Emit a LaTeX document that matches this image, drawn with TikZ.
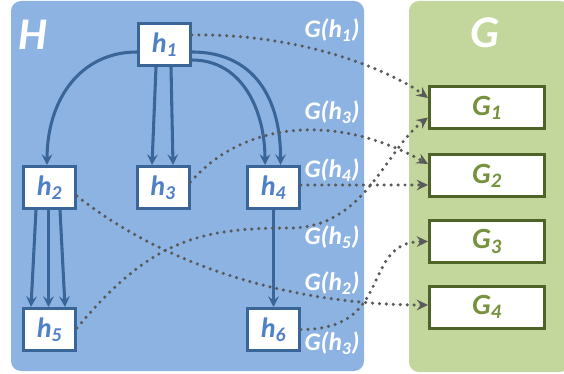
\documentclass[tikz,border=0pt]{standalone}
\usepackage{fontspec}
\setmainfont{Carlito}
\usetikzlibrary{arrows.meta,calc}
\definecolor{panelH}{HTML}{8DB3E2}
\definecolor{panelG}{HTML}{C3D69B}
\definecolor{hborder}{HTML}{3A6598}
\definecolor{htext}{HTML}{4F81C4}
\definecolor{gborder}{HTML}{4F6228}
\definecolor{gtext}{HTML}{76923C}
\definecolor{dotc}{HTML}{595959}
\begin{document}
\begin{tikzpicture}[x=0.75pt,y=-0.75pt,
  hbox/.style={draw=hborder,line width=2.25pt,fill=white,minimum width=39pt,minimum height=31.5pt,inner sep=0pt,text=htext,font=\fontsize{21}{21}\selectfont\bfseries\itshape},
  gbox/.style={draw=gborder,line width=2.25pt,fill=white,minimum width=86.25pt,minimum height=31.5pt,inner sep=0pt,text=gtext,font=\fontsize{22}{22}\selectfont\bfseries\itshape},
  panel/.style={rounded corners=7.5pt},
  bigtitle/.style={text=white,font=\fontsize{34}{34}\selectfont\bfseries\itshape},
  maplabel/.style={text=white,font=\fontsize{19}{19}\selectfont\bfseries\itshape},
  edge/.style={draw=hborder,line width=2.3pt,-{Stealth[length=8pt,width=8pt,inset=3pt]}},
  mapedge/.style={draw=dotc,line width=2.6pt,line cap=round,dash pattern=on 0pt off 5.2pt,-{Stealth[length=8.5pt,width=8pt,inset=3pt]}}
]
\useasboundingbox (0,0) rectangle (564,374);
\fill[panelH,panel] (11,1) rectangle (364,371);
\fill[panelG,panel] (409,1) rectangle (570,372);
\node[bigtitle] (Ht) at (33,35) {H};
\node[bigtitle] (Gt) at (485,33) {G};

\node[hbox] (h1) at (164.5,44.5) {h\textsubscript{1}};
\node[hbox] (h2) at (49.5,187.5) {h\textsubscript{2}};
\node[hbox] (h3) at (163,187.5) {h\textsubscript{3}};
\node[hbox] (h4) at (273.5,187.5) {h\textsubscript{4}};
\node[hbox] (h5) at (49.5,329.5) {h\textsubscript{5}};
\node[hbox] (h6) at (273.5,329.5) {h\textsubscript{6}};

\node[gbox] (G1) at (487,107.5) {G\textsubscript{1}};
\node[gbox] (G2) at (487,175.5) {G\textsubscript{2}};
\node[gbox] (G3) at (487,241.5) {G\textsubscript{3}};
\node[gbox] (G4) at (487,307) {G\textsubscript{4}};

\node[maplabel] (l1) at (332,30) {G(h\textsubscript{1})};
\node[maplabel] (l2) at (332,112) {G(h\textsubscript{3})};
\node[maplabel] (l3) at (332,170) {G(h\textsubscript{4})};
\node[maplabel] (l4) at (332,237) {G(h\textsubscript{5})};
\node[maplabel] (l5) at (332,283) {G(h\textsubscript{2})};
\node[maplabel] (l6) at (332,343) {G(h\textsubscript{3})};

% solid edges
\draw[edge] ($(h1.west)+(0,7.5)$) .. controls (80,52) and (47,100) .. ($(h2.north)+(-2.5,0)$);
\draw[edge] ($(h1.south)+(-8.5,0)$) -- ($(h3.north)+(-11,0)$);
\draw[edge] ($(h1.south)+(6.5,0)$) -- ($(h3.north)+(10,0)$);
\draw[edge] ($(h1.east)+(0,7.5)$) .. controls (255,52) and (281,100) .. ($(h4.north)+(7,0)$);
\draw[edge] ($(h1.east)+(0,15.5)$) .. controls (242,60) and (265,110) .. ($(h4.north)+(-8.5,0)$);
\draw[edge] ($(h2.south)+(-13.5,0)$) -- ($(h5.north)+(-18.5,0)$);
\draw[edge] ($(h2.south)+(-1,0)$) -- ($(h5.north)+(-1,0)$);
\draw[edge] ($(h2.south)+(10.5,0)$) -- ($(h5.north)+(15.5,0)$);
\draw[edge] (h4.south) -- (h6.north);

% mapping edges
\draw[mapedge] ($(h1.east)+(0,-9.5)$) .. controls (300,33) and (390,70) .. ($(G1.west)+(0,-9.5)$);
\draw[mapedge] ($(h3.east)+(0,-5.5)$) .. controls (240,125) and (330,110) .. ($(G2.west)+(0,-11.5)$);
\draw[mapedge] ($(h4.east)+(0,-2.5)$) -- ($(G2.west)+(0,9.5)$);
\draw[mapedge] ($(h5.east)+(0,-1.5)$) .. controls (150,240) and (200,228) .. (290,228) .. controls (365,228) and (385,150) .. ($(G1.west)+(0,10)$);
\draw[mapedge] ($(h2.east)+(0,8.5)$) .. controls (170,270) and (300,305) .. ($(G4.west)+(0,-2)$);
\draw[mapedge] (h6.east) .. controls (395,330) and (360,242) .. (G3.west);
\end{tikzpicture}
\end{document}
